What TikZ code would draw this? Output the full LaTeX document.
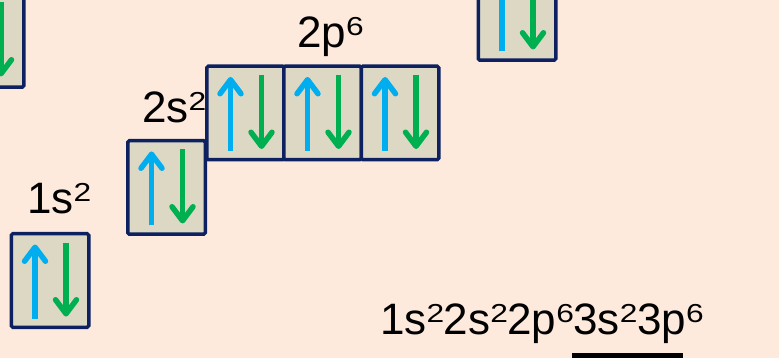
\documentclass[tikz,border=0pt]{standalone}
\usepackage{fontspec}
\usepackage{graphicx}
\setmainfont{Liberation Sans}
\usetikzlibrary{arrows.meta}

\definecolor{bgpeach}{HTML}{FDEADC}
\definecolor{boxfill}{HTML}{DDD8C4}
\definecolor{boxline}{HTML}{0D2160}
\definecolor{spinup}{HTML}{00AEEF}
\definecolor{spindown}{HTML}{00B050}

% raised exponent in orbital labels
\newcommand\spx[1]{\raisebox{12pt}{\scalebox{1.22}[1]{\fontsize{26}{26}\selectfont #1}}\kern-0.5pt}

\tikzset{
  orbital/.style={draw=boxline, line width=3.5pt, fill=boxfill,
    minimum width=77.5pt, minimum height=93.5pt, inner sep=0pt,
    rounded corners=1.5pt},
  spin/.style={line width=5.5pt,
    -{Straight Barb[round,length=14pt,width=21pt]}},
  lbl/.style={font=\fontsize{44}{48}\selectfont, inner sep=0pt,
    anchor=base west},
}

% one orbital box holding a spin-up and a spin-down electron
\newcommand\orb[2]{%
  \node[orbital] (#1) at (#2) {};
  \draw[spin, spinup] ([xshift=-15pt,yshift=-38pt]#1.center)
    -- ([xshift=-15pt,yshift=36pt]#1.center);
  \draw[spin, spindown] ([xshift=16pt,yshift=38pt]#1.center)
    -- ([xshift=16pt,yshift=-36pt]#1.center);
}

\begin{document}
\begin{tikzpicture}[x=1pt,y=-1pt]
  \fill[bgpeach] (0,0) rectangle (779,358);
  \useasboundingbox (0,0) rectangle (779,358);

  % orbital boxes
  \orb{prev}{-15,40.5}
  \orb{s1}{50,280.5}
  \orb{s2}{166.5,187.5}
  \orb{px}{245.5,113}
  \orb{py}{322.5,113}
  \orb{pz}{400,113}
  \orb{next}{517,13.5}

  % labels
  \node[lbl] (l1s) at (27,214) {1s\spx{2}};
  \node[lbl] (l2s) at (142,123) {2s\spx{2}};
  \node[lbl] (l2p) at (297,48) {2p\spx{6}};

  % full configuration
  \node[lbl] (conf) at (380,334) {1s\spx{2}2s\spx{2}2p\spx{6}3s\spx{2}3p\spx{6}};
  \node[fill=black, inner sep=0pt, minimum width=111pt, minimum height=8pt,
    anchor=north west] (bar) at (572,353) {};
\end{tikzpicture}
\end{document}
